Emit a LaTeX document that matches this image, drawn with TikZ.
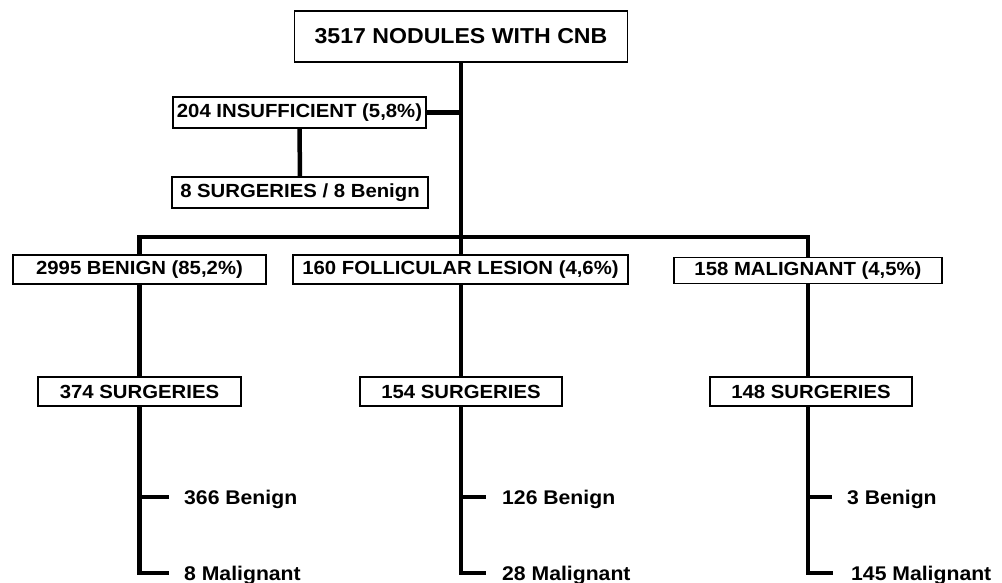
\documentclass[tikz,border=0pt]{standalone}
\usepackage{fontspec}
\setmainfont[FakeStretch=1.07]{Liberation Sans}
\usetikzlibrary{backgrounds}
\tikzset{
  box/.style={draw=black, line width=1.3pt, fill=white, inner sep=0pt,
    font=\fontsize{19}{21}\selectfont\bfseries},
  topbox/.style={box, font=\fontsize{21.6}{24}\selectfont\bfseries},
  leaf/.style={inner sep=0pt, anchor=west, text depth=0pt,
    font=\fontsize{19.8}{21}\selectfont\bfseries},
  conn/.style={draw=black, line width=4.5pt, line join=miter, line cap=butt},
}
\begin{document}
\begin{tikzpicture}[x=1pt,y=-1pt]
\useasboundingbox (0,0) rectangle (1002,583);
% boxes
\node[topbox, minimum width=333pt, minimum height=51pt] (top) at (461,36.5) {3517 NODULES WITH CNB};
\node[box, minimum width=253pt, minimum height=31pt] (insuf) at (299.5,112.5) {204 INSUFFICIENT (5,8\%)};
\node[box, minimum width=256pt, minimum height=31pt] (surg8) at (300,192.5) {8 SURGERIES / 8 Benign};
\node[box, minimum width=253pt, minimum height=29pt] (ben) at (139.5,269.5) {2995 BENIGN (85,2\%)};
\node[box, minimum width=335pt, minimum height=29pt] (fol) at (460.5,269.5) {160 FOLLICULAR LESION (4,6\%)};
\node[box, minimum width=268pt, minimum height=26pt] (mal) at (808,270.5) {158 MALIGNANT (4,5\%)};
\node[box, minimum width=203pt, minimum height=29pt] (s1) at (139.5,391.5) {374 SURGERIES};
\node[box, minimum width=202pt, minimum height=29pt] (s2) at (461,391.5) {154 SURGERIES};
\node[box, minimum width=202pt, minimum height=29pt] (s3) at (811,391.5) {148 SURGERIES};
% leaves
\node[leaf] (b1) at (184,497) {366 Benign};
\node[leaf] (m1) at (184,573) {8 Malignant};
\node[leaf] (b2) at (502,497) {126 Benign};
\node[leaf] (m2) at (502,573) {28 Malignant};
\node[leaf] (b3) at (847,497) {3 Benign};
\node[leaf] (m3) at (851,573) {145 Malignant};
% junctions
\coordinate (jL) at (139.5,237);
\coordinate (jR) at (808,237);
\begin{pgfonlayer}{background}
\draw[conn] (top.south) -- (s2.north);
\draw[conn] (insuf.east) -- (insuf.east -| top.south);
\draw[conn] (insuf.south) -- (surg8.north);
\draw[conn] (s1.north) -- (jL) -- (jR) -- (mal.north);
\draw[conn] (mal.south) -- (s3.north -| mal.south);
\end{pgfonlayer}
\draw[conn, shorten >=15pt] (s1.south) |- (m1.west);
\draw[conn, shorten >=15pt] (s1.south |- b1.west) -- (b1.west);
\draw[conn, shorten >=16pt] (s2.south) |- (m2.west);
\draw[conn, shorten >=16pt] (s2.south |- b2.west) -- (b2.west);
\draw[conn, shorten >=18pt] (s3.south -| mal.south) |- (m3.west);
\draw[conn, shorten >=15pt] (s3.south -| mal.south) |- (b3.west);
\end{tikzpicture}
\end{document}
